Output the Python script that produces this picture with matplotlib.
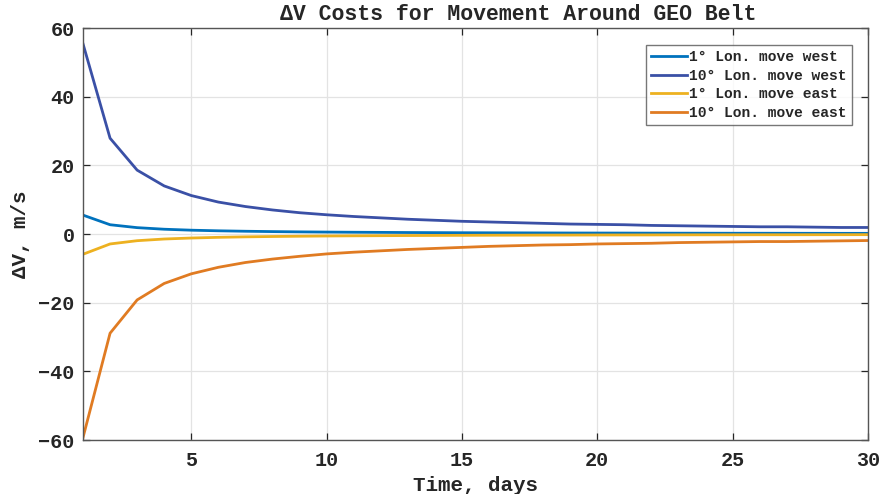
import matplotlib
matplotlib.use("Agg")
import matplotlib.pyplot as plt

days = list(range(1, 31))

west_1deg = [5.5, 2.7, 1.85, 1.39, 1.11, 0.93, 0.8, 0.7, 0.62, 0.56,
             0.51, 0.47, 0.43, 0.4, 0.37, 0.35, 0.33, 0.31, 0.29, 0.28,
             0.27, 0.25, 0.24, 0.23, 0.22, 0.22, 0.21, 0.2, 0.19, 0.19]
west_10deg = [55.4, 27.9, 18.6, 14.0, 11.2, 9.3, 8.0, 7.0, 6.2, 5.6,
              5.1, 4.7, 4.3, 4.0, 3.7, 3.5, 3.3, 3.1, 2.9, 2.8,
              2.7, 2.5, 2.4, 2.3, 2.2, 2.1, 2.1, 2.0, 1.9, 1.9]
east_1deg = [-5.9, -2.9, -1.95, -1.46, -1.17, -0.97, -0.83, -0.73, -0.65, -0.58,
             -0.53, -0.49, -0.45, -0.42, -0.39, -0.36, -0.34, -0.32, -0.31, -0.29,
             -0.28, -0.27, -0.25, -0.24, -0.23, -0.22, -0.22, -0.21, -0.2, -0.19]
east_10deg = [-59.3, -28.9, -19.2, -14.4, -11.6, -9.7, -8.3, -7.3, -6.5, -5.8,
              -5.3, -4.9, -4.5, -4.2, -3.9, -3.6, -3.4, -3.2, -3.1, -2.9,
              -2.8, -2.7, -2.5, -2.4, -2.3, -2.2, -2.2, -2.1, -2.0, -1.9]

series = [
    ("1° Lon. move west", west_1deg, "#0072BD"),
    ("10° Lon. move west", west_10deg, "#3A50A6"),
    ("1° Lon. move east", east_1deg, "#EDB120"),
    ("10° Lon. move east", east_10deg, "#E07B22"),
]

xticks = [5, 10, 15, 20, 25, 30]
yticks = [-60, -40, -20, 0, 20, 40, 60]

plt.rcParams["font.family"] = ["Liberation Mono", "DejaVu Sans Mono"]
plt.rcParams["font.weight"] = "bold"

W, H = 881, 494
fig = plt.figure(figsize=(W / 100, H / 100), dpi=100)
ax = fig.add_axes([83 / W, 1 - 440 / H, (868 - 83) / W, (440 - 28) / H])

for label, vals, color in series:
    ax.plot(days, vals, color=color, lw=2, label=label)

ax.set_xlim(1, 30)
ax.set_ylim(-60, 60)
ax.set_xticks(xticks)
ax.set_yticks(yticks)
ax.grid(True, color="#e3e3e3", lw=0.9)
ax.set_axisbelow(True)

for sp in ax.spines.values():
    sp.set_color("#555555")
    sp.set_linewidth(1.0)
ax.tick_params(axis="both", direction="in", top=True, right=True, length=5,
               width=0.9, colors="#262626", labelsize=14.5)
ax.tick_params(axis="x", pad=8)
ax.tick_params(axis="y", pad=6)
for t in ax.get_xticklabels() + ax.get_yticklabels():
    t.set_fontweight("bold")

ax.set_title("ΔV Costs for Movement Around GEO Belt", fontsize=15.5,
             fontweight="bold", color="#262626", x=0.555, pad=6)
ax.set_xlabel("Time, days", fontsize=15, fontweight="bold", color="#262626", labelpad=4)
ax.set_ylabel("ΔV, m/s", fontsize=15, fontweight="bold", color="#262626", labelpad=6)

leg = ax.legend(loc="upper right", bbox_to_anchor=(852 / W, 1 - 45 / H),
                bbox_transform=fig.transFigure, fontsize=10.5,
                frameon=True, fancybox=False, handlelength=2.5, handletextpad=0.15,
                borderpad=0.35, labelspacing=0.32, borderaxespad=0.0)
leg.get_frame().set_edgecolor("#555555")
leg.get_frame().set_linewidth(1.0)
for t in leg.get_texts():
    t.set_fontweight("bold")
    t.set_color("#262626")

fig.savefig("out.png", dpi=100)
